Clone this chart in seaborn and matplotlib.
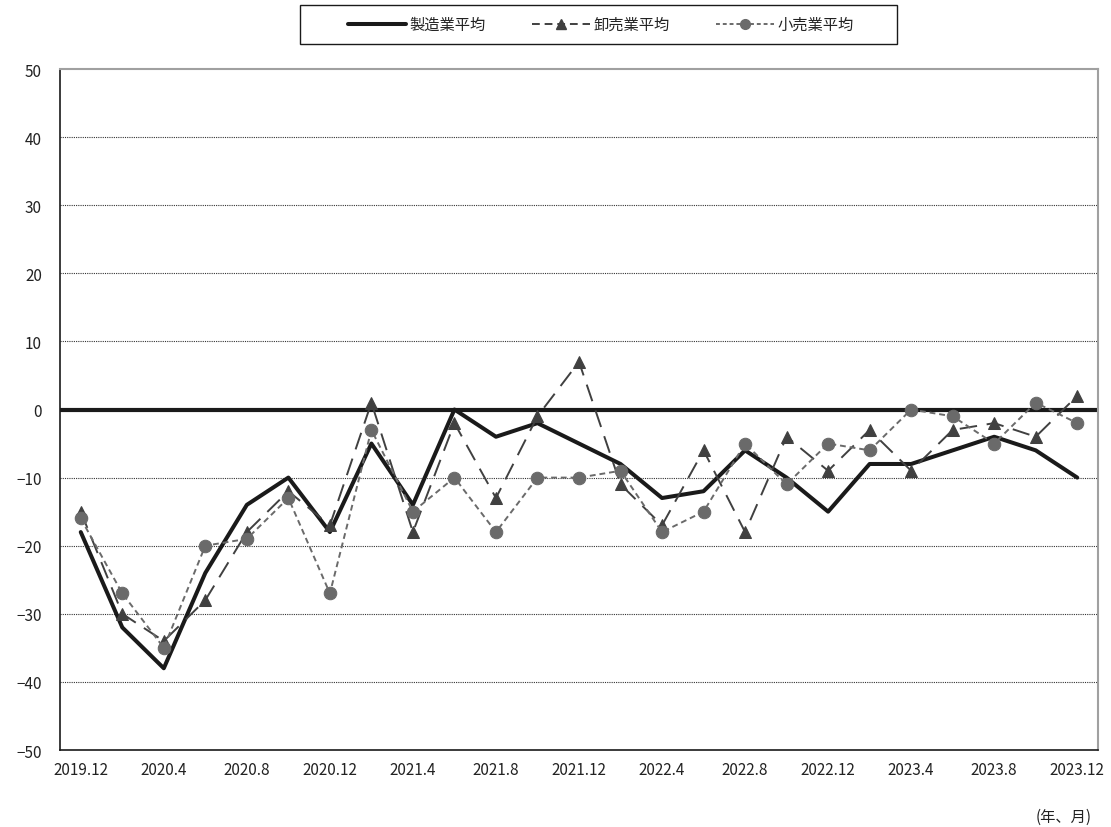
import matplotlib
matplotlib.use("Agg")
import matplotlib.pyplot as plt
import seaborn as sns
import pandas as pd
import numpy as np
from matplotlib.lines import Line2D
from matplotlib.patches import Rectangle

sns.set_style("white")
plt.rcParams['font.family'] = ['Noto Sans CJK JP', 'DejaVu Sans']
plt.rcParams['axes.unicode_minus'] = True

periods = ["2019.12", "2020.2", "2020.4", "2020.6", "2020.8", "2020.10", "2020.12",
           "2021.2", "2021.4", "2021.6", "2021.8", "2021.10", "2021.12",
           "2022.2", "2022.4", "2022.6", "2022.8", "2022.10", "2022.12",
           "2023.2", "2023.4", "2023.6", "2023.8", "2023.10", "2023.12"]
manufacturing = [-18, -32, -38, -24, -14, -10, -18, -5, -14, 0, -4, -2, -5,
                 -8, -13, -12, -6, -10, -15, -8, -8, -6, -4, -6, -10]
wholesale = [-15, -30, -34, -28, -18, -12, -17, 1, -18, -2, -13, -1, 7,
             -11, -17, -6, -18, -4, -9, -3, -9, -3, -2, -4, 2]
retail = [-16, -27, -35, -20, -19, -13, -27, -3, -15, -10, -18, -10, -10,
          -9, -18, -15, -5, -11, -5, -6, 0, -1, -5, 1, -2]
series_names = ["製造業平均", "卸売業平均", "小売業平均"]
yticks = [-50, -40, -30, -20, -10, 0, 10, 20, 30, 40, 50]

pos = np.arange(len(periods))
df = pd.DataFrame({"pos": pos, series_names[0]: manufacturing,
                   series_names[1]: wholesale, series_names[2]: retail})

fig = plt.figure(figsize=(11.11, 8.28), dpi=100)
ax = fig.add_axes([60/1111, 1-751/828, 1038/1111, 681/828])

# grid lines
for v in yticks[1:-1]:
    if v != 0:
        ax.axhline(v, color="#333333", lw=0.8, ls=(0, (1, 1)), zorder=1)
ax.axhline(0, color="#1a1a1a", lw=3.0, zorder=2)

styles = [
    dict(color="#1a1a1a", lw=2.9, ls="-", marker=None),
    dict(color="#404040", lw=1.4, ls=(0, (9, 5)), marker="^"),
    dict(color="#6a6a6a", lw=1.4, ls=(0, (3, 2)), marker="o"),
]
for name, st in zip(series_names, styles):
    kw = dict(color=st["color"], linewidth=st["lw"], linestyle=st["ls"], zorder=3)
    if st["marker"]:
        kw.update(marker=st["marker"], markersize=9, markerfacecolor=st["color"],
                  markeredgecolor=st["color"])
    sns.lineplot(data=df, x="pos", y=name, ax=ax, legend=False, **kw)

ax.set_xlim(-0.5, len(periods) - 0.5)
ax.set_ylim(-50, 50)
ax.set_yticks(yticks)
ax.set_yticklabels([str(v) if v >= 0 else "−" + str(-v) for v in yticks])
ax.set_xticks(pos[::2])
ax.set_xticklabels(periods[::2])
ax.set_xticks(np.arange(len(periods)) + 0.5, minor=True)
ax.tick_params(axis="x", which="major", length=0, pad=8, labelsize=11, colors="#222222")
ax.tick_params(axis="x", which="minor", direction="in", length=4, width=1, color="#222222")
ax.tick_params(axis="y", length=0, pad=13, labelsize=11, colors="#222222")
ax.set_xlabel("")
ax.set_ylabel("")

for side in ["left", "bottom"]:
    ax.spines[side].set_color("#1a1a1a")
    ax.spines[side].set_linewidth(1.2)
for side in ["top", "right"]:
    ax.spines[side].set_color("#a0a0a0")
    ax.spines[side].set_linewidth(1.5)

# legend handles with marker at center
handles = []
for name, st in zip(series_names, styles):
    h = Line2D([0, 0.5, 1], [0, 0, 0], color=st["color"],
               lw=st["lw"] if st["marker"] is None else 1.4,
               ls=st["ls"] if st["marker"] is None else (0, (4, 2.5)) if st["marker"] == "^" else (0, (2, 1.5)),
               marker=st["marker"], markersize=7,
               markerfacecolor=st["color"], markeredgecolor=st["color"],
               markevery=[1] if st["marker"] else None)
    handles.append(h)
leg = fig.legend(handles, series_names, loc="center", ncol=3,
                 bbox_to_anchor=(601/1111, 1 - 25.5/828), frameon=False,
                 fontsize=11, handlelength=3.8, columnspacing=3.0,
                 borderpad=0, handletextpad=0.25, borderaxespad=0)
for t in leg.get_texts():
    t.set_color("#222222")
fig.patches.append(Rectangle((300/1111, 1-45/828), 597/1111, 39/828,
                             transform=fig.transFigure, fill=False,
                             edgecolor="#1a1a1a", linewidth=1.0))

fig.text(1092/1111, 1-817/828, "(年、月)", ha="right", va="center", fontsize=11, color="#222222")

fig.savefig("out.png", dpi=100)
